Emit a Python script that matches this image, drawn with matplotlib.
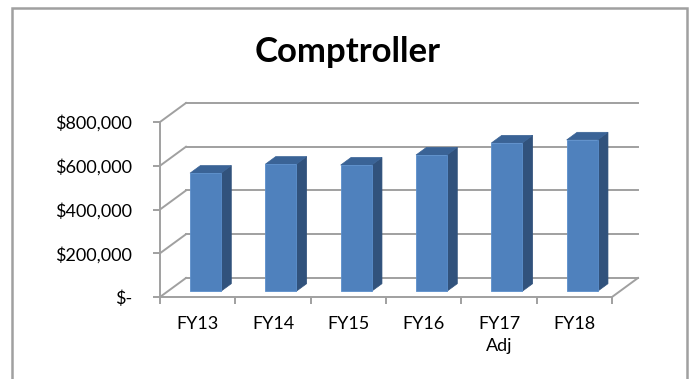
import matplotlib.pyplot as plt
from matplotlib.patches import Polygon, Rectangle

# Comptroller budget by fiscal year
years = ["FY13", "FY14", "FY15", "FY16", "FY17\nAdj", "FY18"]
budget = [540000, 581000, 577000, 623000, 678000, 692000]
y_ticks = [0, 200000, 400000, 600000, 800000]
y_labels = ["$-", "$200,000", "$400,000", "$600,000", "$800,000"]

FRONT = "#4f81bd"
SIDE = "#31527c"
TOP = "#3a6396"
GRID = "#a0a0a0"

# fake 3d: how far the back wall is shifted from the front plane (data units)
DX = 0.345
DY = 87000
BAR_W = 0.41
F0, F1 = 0.3, 0.7   # front and back face of the bars, as a fraction of the depth

plt.rcParams['font.family'] = ['Lato', 'DejaVu Sans']

fig = plt.figure(figsize=(6.89, 3.79), dpi=100)
ax = fig.add_axes([160 / 689, 82 / 379, 452 / 689, 175 / 379])
ax.set_xlim(0, len(years))
ax.set_ylim(0, 800000)

# back wall gridlines and the diagonals on the left wall
for v in y_ticks:
    ax.plot([DX, len(years) + DX], [v + DY, v + DY], color=GRID, lw=1.4, clip_on=False, zorder=1)
    ax.plot([0, DX], [v, v + DY], color=GRID, lw=1.4, clip_on=False, zorder=1)
# right edge of the floor
ax.plot([len(years), len(years) + DX], [0, DY], color=GRID, lw=1.4, clip_on=False, zorder=1)

# bars: front face, side and top
for i, v in enumerate(budget):
    xl = i + 0.5 - BAR_W / 2 + F0 * DX
    xr = xl + BAR_W
    y0 = F0 * DY
    ddx = (F1 - F0) * DX
    ddy = (F1 - F0) * DY
    ax.add_patch(Polygon([(xr, y0), (xr + ddx, y0 + ddy), (xr + ddx, v + y0 + ddy), (xr, v + y0)],
                         closed=True, facecolor=SIDE, edgecolor=SIDE, lw=0.5, clip_on=False, zorder=3))
    ax.add_patch(Polygon([(xl, v + y0), (xr, v + y0), (xr + ddx, v + y0 + ddy), (xl + ddx, v + y0 + ddy)],
                         closed=True, facecolor=TOP, edgecolor=TOP, lw=0.5, clip_on=False, zorder=3))
    ax.bar(i + 0.5 + F0 * DX, v, width=BAR_W, bottom=y0, color=FRONT,
           edgecolor="#5b8fcc", lw=0.6, clip_on=False, zorder=4)

for side in ["top", "right"]:
    ax.spines[side].set_visible(False)
for side in ["left", "bottom"]:
    ax.spines[side].set_color(GRID)
    ax.spines[side].set_linewidth(1.4)

ax.set_yticks(y_ticks)
ax.set_yticklabels(y_labels)
ax.set_xticks(range(len(years) + 1))
ax.set_xticklabels([])
ax.set_xticks([i + 0.5 for i in range(len(years))], minor=True)
ax.set_xticklabels(years, minor=True, linespacing=1.45)
ax.tick_params(axis="y", length=5, width=1.4, color=GRID, pad=15, labelsize=13)
ax.tick_params(axis="x", which="major", length=5, width=1.4, color=GRID)
ax.tick_params(axis="x", which="minor", length=0, pad=14, labelsize=13)
ax.patch.set_visible(False)

fig.text(348 / 689, (379 - 62) / 379, "Comptroller", ha="center", va="baseline",
         fontsize=25, fontweight="bold")

# chart border
fig.add_artist(Rectangle((12 / 689, -0.1), 675 / 689, (379 - 8) / 379 + 0.1,
                         transform=fig.transFigure, fill=False, edgecolor="#a0a0a0", lw=1.8))

fig.savefig("out.png", dpi=100)
